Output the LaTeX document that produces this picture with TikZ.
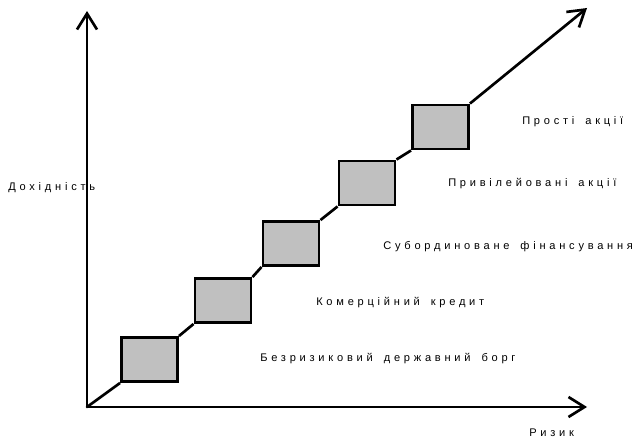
\documentclass[tikz,border=0pt]{standalone}
\usepackage{fontspec}
\setmainfont{Liberation Sans}[LetterSpace=34,WordSpace=1.6]
\usepackage{tikz}
\usetikzlibrary{arrows.meta,positioning}
\definecolor{boxgray}{HTML}{C0C0C0}

\begin{document}
\begin{tikzpicture}[
    x=0.75pt, y=0.75pt,
    font=\fontsize{8.3}{10}\selectfont,
    level/.style={
        draw, line width=2.2pt, fill=boxgray,
        minimum width=42pt, minimum height=33pt,
        inner sep=0pt
    },
    axis/.style={
        -{Straight Barb[length=12pt,width=15pt]}, line width=2pt
    },
    link/.style={
        line width=2pt
    },
    lbl/.style={
        anchor=west, inner sep=0pt
    }
]
\useasboundingbox (0,0) rectangle (641,440);

% --- axes ---
\coordinate (o) at (87,33);
\coordinate (ytop) at (87,429);
\coordinate (xend) at (587,33);
\coordinate (dtop) at (587,432);
\draw[axis, line cap=round] (o) -- (ytop);
\draw[axis, line cap=round] (o) -- (xend);

% --- five steps along the risk/return line ---
\node[level] (b1) at (149.5,80.5)  {};
\node[level] (b2) at (223,139.5)   {};
\node[level] (b3) at (291,196.5)   {};
\node[level] (b4) at (367,257)     {};
\node[level] (b5) at (440.5,313)   {};

\draw[link] (o) -- (b1.south west);
\draw[link] (b1.north east) -- (b2.south west);
\draw[link] (b2.north east) -- (b3.south west);
\draw[link] (b3.north east) -- (b4.south west);
\draw[link] (b4.north east) -- (b5.south west);
\draw[axis] (b5.north east) -- (dtop);

% --- labels ---
\node[lbl] (t1) at (260,81)  {Безризиковий державний борг};
\node[lbl] (t2) at (316,137) {Комерційний кредит};
\node[lbl] (t3) at (383,193) {Субординоване фінансування};
\node[lbl] (t4) at (448,256) {Привілейовані акції};
\node[lbl] (t5) at (522,318) {Прості акції};
\node[lbl] (ylbl) at (8,252) {Дохідність};
\node[lbl] (xlbl) at (529,7) {Ризик};

\end{tikzpicture}
\end{document}
